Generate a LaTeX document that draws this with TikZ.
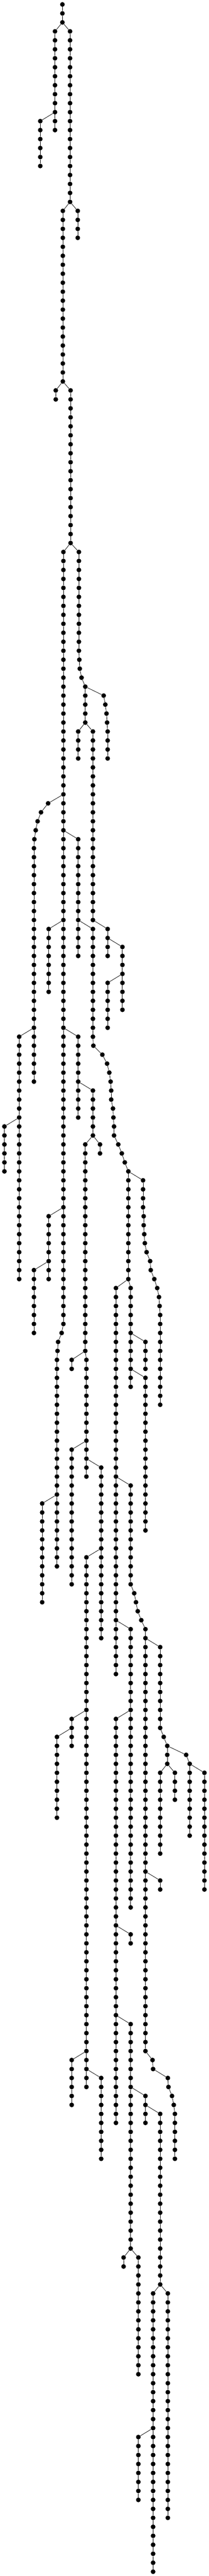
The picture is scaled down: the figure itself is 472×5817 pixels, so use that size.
\documentclass[tikz,border=0pt]{standalone}
\usepackage{tikz}

% one straight run of beads: name, x, first row, last row
\newcommand{\beadrow}[4]{\foreach \rr in {#3,...,#4} {\node[bead] (#1-\rr) at (#2,\rr) {};}}
% a run whose x drifts: name, first row, list of x
\newcommand{\beadbend}[3]{\foreach \xx [count=\rr from #2] in {#3} {\node[bead] (#1-\rr) at (\xx,\rr) {};}}

\begin{document}
\begin{tikzpicture}[x=1pt, y=-20.27pt,
    bead/.style={circle, fill=black, inner sep=0pt, minimum size=10.6pt},
    wire/.style={draw=black, line width=0.9pt}]
        \useasboundingbox (0pt,10pt) rectangle (472pt,-5807pt);

        % Top part
        \beadrow{A}{141}{0}{2}
        \beadrow{B}{124.3}{3}{14}
        \beadrow{C}{91}{13}{18}
        \beadrow{D}{158.3}{3}{22}
        \beadrow{E}{175.7}{23}{26}
        \beadrow{F}{142}{23}{42}
        \beadrow{G}{126}{43}{44}
        \beadrow{H}{159.5}{43}{60}

        % Long left run
        \beadrow{I}{143.3}{61}{147}
        \beadbend{I}{148}{139.3,131.3,130}
        \beadrow{I}{128.7}{151}{174}
        \beadrow{J}{178.3}{61}{72}
        \beadbend{J}{73}{179.3,180.3,184.3}
        \beadrow{J}{192.7}{76}{80}
        \beadbend{K}{77}{234.3,238,240.7,242}
        \beadrow{K}{243.3}{81}{84}
        \beadrow{L}{176.7}{81}{84}
        \beadrow{M}{210}{81}{102}
        \beadbend{N}{89}{108.7,92.7,85,80.7,77.7}
        \beadrow{N}{76.7}{94}{120}
        \beadrow{O}{176.7}{93}{106}
        \beadrow{P}{43.3}{115}{142}
        \beadrow{Q}{110}{103}{110}
        \beadrow{R}{176.7}{115}{124}
        \beadrow{S}{210}{121}{126}
        \beadrow{Sa}{192.7}{127}{150}
        \beadrow{Sa}{195.3}{151}{164}
        \beadrow{Sb}{226}{127}{128}
        \beadrow{T}{210}{103}{115}
        \beadbend{T}{116}{211,231.3,242,247,250,251.3,251.3,255.3,256.3,257.7,257.7,267.3,275.3,282}
        \beadrow{T}{290}{130}{142}
        \beadrow{U}{243.3}{103}{106}
        \beadrow{V}{276.7}{105}{112}
        \beadrow{W}{243.3}{109}{114}
        \beadrow{X}{10}{125}{130}
        \beadrow{Y}{110}{135}{142}
        \beadrow{Z}{76.7}{141}{148}

        % Middle part
        \beadbend{AA}{131}{323.3,323.3,323.3,323.3,324.7,324.7,326,327.3,331.3,339.3,340.7,348.7,355.3,359.3,360.7}
        \beadrow{AA}{362}{146}{156}
        \beadrow{AB}{262}{143}{186}
        \beadrow{AC}{295.3}{143}{154}
        \beadrow{AD}{95.3}{167}{178}
        \beadrow{AE}{162}{151}{152}
        \beadrow{AF}{162}{161}{176}
        \beadrow{AG}{228.7}{163}{182}
        \beadrow{AH}{295.3}{165}{176}
        \beadbend{AH}{177}{303.3,307.3,311.3,319.3}
        \beadrow{AH}{328.7}{181}{228}
        \beadbend{AH}{229}{344.7,346}
        \beadrow{AI}{328.7}{149}{152}
        \beadrow{AJ}{328.7}{153}{170}
        \beadrow{AK}{195.3}{173}{232}
        \beadrow{AL}{162}{191}{194}
        \beadrow{AM}{128.7}{193}{202}
        \beadrow{AN}{295.3}{181}{212}
        \beadrow{AO}{262}{191}{236}
        \beadrow{AP}{362}{183}{192}
        \beadbend{AP}{193}{370,378,378,378}
        \beadrow{AQ}{295.3}{215}{216}
        \beadrow{AR}{362}{209}{210}
        \beadbend{AS}{195}{420.7}
        \beadrow{AS}{428.7}{196}{204}
        \beadrow{AT}{362}{197}{206}
        \beadrow{AU}{395.3}{197}{200}
        \beadrow{AV}{462}{197}{210}

        % Bottom part
        \beadrow{AW}{162}{229}{234}
        \beadrow{AX}{228.7}{231}{240}
        \beadrow{AY}{295.3}{225}{250}
        \beadrow{AZ}{328.7}{233}{236}
        \beadrow{BA}{362}{235}{254}
        \beadbend{BB}{231}{379.3,380.7,388.7,392.7}
        \beadrow{BB}{395.3}{235}{240}
        \beadrow{BC}{279.3}{251}{252}
        \beadrow{BD}{312.7}{251}{264}
        \beadrow{BE}{346}{255}{286}
        \beadrow{BF}{379.3}{255}{280}
        \beadrow{BG}{312.7}{271}{278}

        % Links along each run
        \foreach \n/\f/\l in {A/0/2, B/3/14, C/13/18, D/3/22, E/23/26, F/23/42, G/43/44,
            H/43/60, I/61/174, J/61/80, K/77/84, L/81/84, M/81/102, N/89/120, O/93/106,
            P/115/142, Q/103/110, R/115/124, S/121/126, Sa/127/164, Sb/127/128, T/103/142,
            U/103/106, V/105/112, W/109/114, X/125/130, Y/135/142, Z/141/148, AA/131/156,
            AB/143/186, AC/143/154, AD/167/178, AE/151/152, AF/161/176, AG/163/182,
            AH/165/230, AI/149/152, AJ/153/170, AK/173/232, AL/191/194, AM/193/202,
            AN/181/212, AO/191/236, AP/183/196, AQ/215/216, AR/209/210, AS/195/204,
            AT/197/206, AU/197/200, AV/197/210, AW/229/234, AX/231/240, AY/225/250,
            AZ/233/236, BA/235/254, BB/231/240, BC/251/252, BD/251/264, BE/255/286,
            BF/255/280, BG/271/278} {
            \pgfmathtruncatemacro{\lm}{\l-1}
            \foreach \r in {\f,...,\lm} {
                \pgfmathtruncatemacro{\s}{\r+1}
                \draw[wire] (\n-\r) -- (\n-\s);
            }
        }

        % Branch links
        \foreach \p/\c in {A-2/B-3, A-2/D-3, B-12/C-13, D-22/E-23, D-22/F-23, F-42/G-43,
            F-42/H-43, H-60/I-61, H-60/J-61, J-76/K-77, J-80/L-81, J-80/M-81, I-88/N-89,
            I-92/O-93, N-114/P-115, I-102/Q-103, I-114/R-115, R-120/S-121, S-126/Sa-127,
            S-126/Sb-127, O-102/T-103, M-102/U-103, U-104/V-105, V-108/W-109, P-124/X-125,
            I-134/Y-135, Y-140/Z-141, T-130/AA-131, T-142/AB-143, T-142/AC-143,
            I-166/AD-167, Sa-150/AE-151, Sa-160/AF-161, Sa-162/AG-163, AB-164/AH-165,
            AC-148/AI-149, AC-152/AJ-153, AG-172/AK-173, AK-190/AL-191, AL-192/AM-193,
            AB-180/AN-181, AN-190/AO-191, AH-182/AP-183, AO-214/AQ-215, AH-208/AR-209,
            AP-194/AS-195, AP-196/AT-197, AP-196/AU-197, AS-196/AV-197, AK-228/AW-229,
            AK-230/AX-231, AO-224/AY-225, AY-232/AZ-233, AZ-234/BA-235, AH-230/BB-231,
            AY-250/BC-251, AY-250/BD-251, BA-254/BE-255, BA-254/BF-255, BE-270/BG-271}
            \draw[wire] (\p) -- (\c);
    \end{tikzpicture}
\end{document}
